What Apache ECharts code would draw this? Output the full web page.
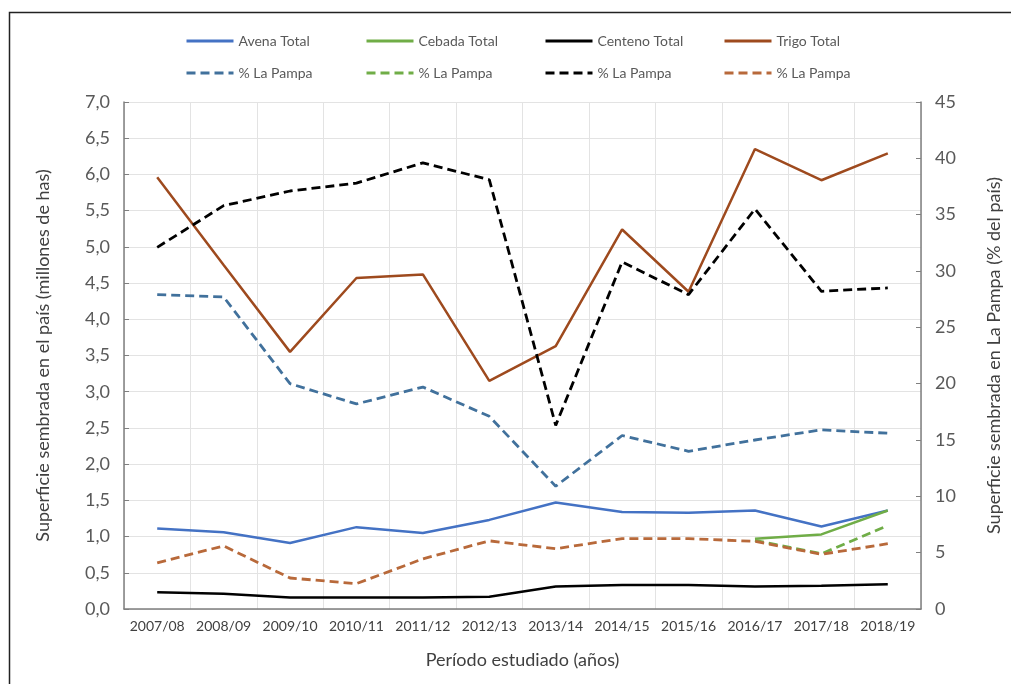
<!DOCTYPE html>
<html>
<head>
<meta charset="utf-8">
<script src="https://cdn.jsdelivr.net/npm/echarts@6/dist/echarts.min.js"></script>
<style>
html,body{margin:0;padding:0;background:#fff;}
#c{width:1011px;height:684px;}
</style>
</head>
<body>
<div id="c"></div>
<script>
const categories = ['2007/08','2008/09','2009/10','2010/11','2011/12','2012/13','2013/14','2014/15','2015/16','2016/17','2017/18','2018/19'];
const leftTicks = [0,0.5,1,1.5,2,2.5,3,3.5,4,4.5,5,5.5,6,6.5,7];
const rightTicks = [0,5,10,15,20,25,30,35,40,45];

const avenaTotal   = [1.11,1.06,0.91,1.13,1.05,1.23,1.47,1.34,1.33,1.36,1.14,1.36];
const cebadaTotal  = [null,null,null,null,null,null,null,null,null,0.97,1.03,1.36];
const centenoTotal = [0.23,0.21,0.16,0.16,0.16,0.17,0.31,0.33,0.33,0.31,0.32,0.34];
const trigoTotal   = [5.96,4.75,3.55,4.57,4.62,3.15,3.63,5.24,4.38,6.35,5.92,6.29];

const pctAvena   = [27.9,27.7,20.0,18.2,19.7,17.1,10.9,15.4,14.0,15.0,15.9,15.6];
const pctCebada  = [null,null,null,null,null,null,null,null,null,6.1,4.9,7.4];
const pctCenteno = [32.1,35.8,37.1,37.8,39.6,38.1,16.3,30.8,27.9,35.5,28.2,28.5];
const pctTrigo   = [4.1,5.6,2.75,2.25,4.45,6.05,5.35,6.25,6.25,6.0,4.85,5.8];

const FONT = 'Lato';
const chart = echarts.init(document.getElementById('c'), null, {renderer:'canvas'});

function line(name, data, color, yIdx, dashed){
  return {
    name: name, type:'line', data: data, yAxisIndex: yIdx,
    symbol:'none', showSymbol:false, smooth:false, connectNulls:false,
    lineStyle:{color:color, width: dashed ? 2.8 : 2.5, type: dashed ? [9,5] : 'solid'},
    itemStyle:{color:color}
  };
}

const series = [
  line('Avena Total', avenaTotal, '#4472C4', 0, false),
  line('Cebada Total', cebadaTotal, '#70AD47', 0, false),
  line('Centeno Total', centenoTotal, '#000000', 0, false),
  line('Trigo Total', trigoTotal, '#9E4A1E', 0, false),
  line('% La Pampa (Avena)', pctAvena, '#41719C', 1, true),
  line('% La Pampa (Cebada)', pctCebada, '#70AD47', 1, true),
  line('% La Pampa (Centeno)', pctCenteno, '#000000', 1, true),
  line('% La Pampa (Trigo)', pctTrigo, '#B8693A', 1, true)
];

const legendPos = [[185,34],[365,34],[544,34],[723,34],[185,66],[365,66],[544,66],[723,66]];
const legends = series.map((s,i)=>({
  data:[s.name], left: legendPos[i][0], top: legendPos[i][1],
  itemWidth:47, itemHeight:14, padding:0,
  itemStyle:{opacity:0},
  lineStyle:{width:3},
  textStyle:{fontFamily:FONT, fontSize:14, color:'#595959'},
  formatter: function(n){ return n.indexOf('% La Pampa') === 0 ? '% La Pampa' : n; }
}));

chart.setOption({
  animation:false,
  backgroundColor:'#ffffff',
  legend: legends,
  grid:{left:124, right:90, top:102, bottom:75, containLabel:false},
  xAxis:{
    type:'category', data:categories, boundaryGap:true,
    name:'Período estudiado (años)', nameLocation:'middle', nameGap:42,
    nameTextStyle:{fontFamily:FONT, fontSize:18, color:'#404040'},
    axisLine:{lineStyle:{color:'#7f7f7f', width:1.5}},
    axisTick:{inside:true, length:5, lineStyle:{color:'#7f7f7f'}},
    axisLabel:{fontFamily:FONT, fontSize:14, color:'#404040', margin:10, interval:0},
    splitLine:{show:true, lineStyle:{color:'#e3e3e3', width:1}}
  },
  yAxis:[
    {
      type:'value', min:leftTicks[0], max:leftTicks[leftTicks.length-1], interval:0.5,
      name:'Superficie sembrada en el país (millones de has)', nameLocation:'middle', nameGap:72,
      nameTextStyle:{fontFamily:FONT, fontSize:18, color:'#404040'},
      axisLine:{show:true, lineStyle:{color:'#7f7f7f', width:1.5}},
      axisTick:{show:true, inside:true, length:5, lineStyle:{color:'#7f7f7f'}},
      axisLabel:{fontFamily:FONT, fontSize:18, color:'#595959', margin:14,
        formatter:v=>v.toFixed(1).replace('.',',')},
      splitLine:{show:true, lineStyle:{color:'#e3e3e3', width:1}}
    },
    {
      type:'value', min:rightTicks[0], max:rightTicks[rightTicks.length-1], interval:5,
      name:'Superficie sembrada en La Pampa (% del país)', nameLocation:'middle', nameGap:64,
      nameRotate:90,
      nameTextStyle:{fontFamily:FONT, fontSize:18, color:'#404040'},
      axisLine:{show:true, lineStyle:{color:'#7f7f7f', width:1.5}},
      axisTick:{show:true, inside:true, length:5, lineStyle:{color:'#7f7f7f'}},
      axisLabel:{fontFamily:FONT, fontSize:18, color:'#595959', margin:14},
      splitLine:{show:false}
    }
  ],
  graphic:[{
    type:'rect', left:7, top:10, silent:true,
    shape:{x:0, y:0, width:1200, height:900},
    style:{fill:'none', stroke:'#222', lineWidth:1.5}
  }],
  series: series
});
</script>
</body>
</html>
